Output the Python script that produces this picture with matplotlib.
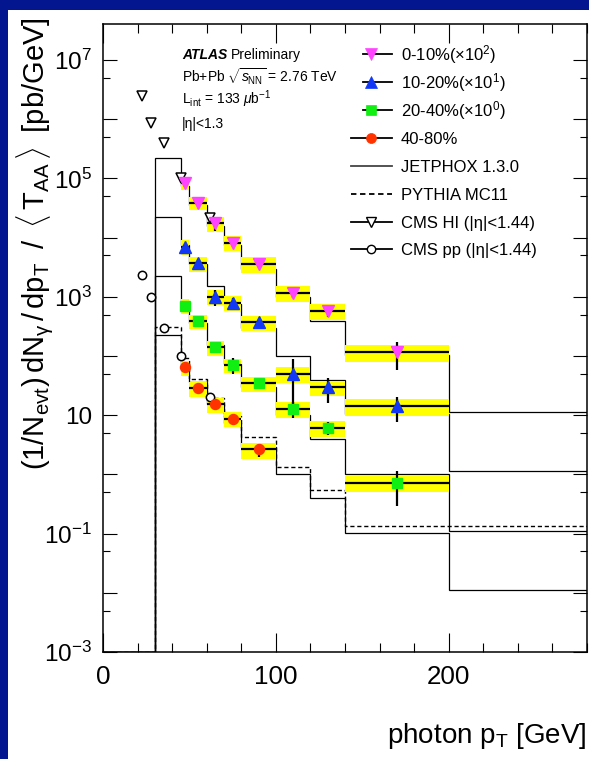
import numpy as np
import matplotlib
matplotlib.use("Agg")
import matplotlib.pyplot as plt
from matplotlib.lines import Line2D
from matplotlib.patches import Rectangle
from matplotlib.ticker import FixedLocator, FuncFormatter, NullFormatter

plt.rcParams['font.family'] = ['Liberation Sans', 'DejaVu Sans']
plt.rcParams['mathtext.fontset'] = 'custom'
plt.rcParams['mathtext.rm'] = 'Liberation Sans'
plt.rcParams['mathtext.it'] = 'Liberation Sans:italic'
plt.rcParams['mathtext.bf'] = 'Liberation Sans:bold'
plt.rcParams['mathtext.sf'] = 'Liberation Sans'

W, H, DPI = 589, 759, 100

# ---------------- data ----------------
atlas_edges = np.array([45, 50, 60, 70, 80, 100, 120, 140, 200])

yield_0_10 = np.array([826, 389, 174, 82.0, 35.8, 11.5, 5.75, 1.16])
yield_10_20 = np.array([700, 368, 100, 79.5, 37.1, 4.97, 2.96, 1.41])
yield_20_40 = np.array([706, 390, 140, 70.5, 34.6, 12.7, 6.15, 0.724])
yield_40_80 = np.array([64.4, 28.5, 15.3, 8.73, 2.65])

scale_0_10, scale_10_20, scale_20_40, scale_40_80 = 1e2, 1e1, 1e0, 1e0

# relative statistical uncertainties
stat_0_10 = np.array([0.03, 0.04, 0.25, 0.06, 0.05, 0.18, 0.22, 0.5])
stat_10_20 = np.array([0.04, 0.05, 0.30, 0.22, 0.08, 0.80, 0.46, 0.45])
stat_20_40 = np.array([0.03, 0.04, 0.13, 0.30, 0.06, 0.30, 0.25, 0.60])
stat_40_80 = np.array([0.05, 0.08, 0.20, 0.20, 0.25])

# relative systematic uncertainties
sys_0_10 = np.array([0.24, 0.26, 0.28, 0.28, 0.30, 0.30, 0.30, 0.31])
sys_10_20 = np.array([0.28, 0.28, 0.28, 0.28, 0.30, 0.30, 0.30, 0.31])
sys_20_40 = np.array([0.28, 0.28, 0.28, 0.28, 0.30, 0.30, 0.30, 0.31])
sys_40_80 = np.array([0.30, 0.28, 0.28, 0.28, 0.30])

# NLO pQCD (JETPHOX) and PYTHIA predictions
jetphox_edges = np.array([0, 30, 45, 50, 60, 70, 80, 100, 120, 140, 200, 280])
jetphox_xsec = np.array([0, 2240, 744, 357, 155, 74.6, 29.5, 10.0, 3.94, 1.03, 0.112])
jetphox_scales = [1e2, 1e1, 1e0, 1e-1]

pythia_edges = np.array([0, 30, 45, 50, 60, 70, 80, 100, 120, 140, 280])
pythia_xsec = np.array([0, 309, 92, 41.5, 19.5, 9.7, 4.24, 1.35, 0.546, 0.136])

# CMS measurements
cms_pt = np.array([22.5, 27.5, 35, 45, 62])
cms_hi = np.array([2.47e6, 8.73e5, 4.01e5, 1.0e5, 2.12e4])
cms_hi_err = np.array([0.06, 0.06, 0.06, 0.08, 0.20])
cms_pp = np.array([2335, 980, 299, 101, 20.1])
cms_pp_err = np.array([0.03, 0.03, 0.03, 0.04, 0.06])

x_ticks = [0, 100, 200]
y_decades = np.arange(-3, 8)

# ---------------- style ----------------
navy = '#03158f'
pink, blue, green, red, yellow = '#ff44ff', '#1238f5', '#11ee11', '#ff3300', '#ffff00'
ymin, ymax = 1e-3, 10 ** 7.608


def fxy(x, y):
    return x / W, 1 - y / H


fig = plt.figure(figsize=(W / DPI, H / DPI), dpi=DPI, facecolor=navy)
fig.add_artist(Rectangle((8 / W, 0), 1, 1 - 10 / H, transform=fig.transFigure,
                         facecolor='white', edgecolor='none', zorder=-5))
ax = fig.add_axes([103 / W, 1 - 652 / H, (587 - 103) / W, (652 - 24) / H])
ax.set_yscale('log')
ax.set_xlim(0, 280)
ax.set_ylim(ymin, ymax)

# theory curves, one JETPHOX copy per centrality scale
for s in jetphox_scales:
    v = np.where(jetphox_xsec > 0, jetphox_xsec * s, ymin)
    ax.stairs(v, jetphox_edges, baseline=None, color='black', lw=0.9, zorder=1)
pv = np.where(pythia_xsec > 0, pythia_xsec, ymin)
ax.stairs(pv, pythia_edges, baseline=None, color='black', lw=1.0,
          linestyle=(0, (3, 2)), zorder=1)

centers = 0.5 * (atlas_edges[1:] + atlas_edges[:-1])
widths = atlas_edges[1:] - atlas_edges[:-1]

series = [
    (yield_0_10 * scale_0_10, stat_0_10, sys_0_10, 'v', pink, 8.5),
    (yield_10_20 * scale_10_20, stat_10_20, sys_10_20, '^', blue, 8.5),
    (yield_20_40 * scale_20_40, stat_20_40, sys_20_40, 's', green, 7.0),
    (yield_40_80 * scale_40_80, stat_40_80, sys_40_80, 'o', red, 7.2),
]

# systematic boxes
for vals, stat, sysf, mk, col, ms in series:
    n = len(vals)
    c, w = centers[:n], widths[:n]
    ax.bar(c, vals * (1 + sysf) - vals * (1 - sysf), bottom=vals * (1 - sysf),
           width=w, color=yellow, edgecolor='none', zorder=2)

# CMS points
ax.errorbar(cms_pt, cms_hi, yerr=cms_hi * cms_hi_err, fmt='none', ecolor='black',
            elinewidth=1.2, capsize=0, zorder=3)
ax.plot(cms_pt, cms_hi, linestyle='none', marker='v', ms=7, mfc='white',
        mec='black', mew=1.1, zorder=3.1)
ax.errorbar(cms_pt, cms_pp, yerr=cms_pp * cms_pp_err, fmt='none', ecolor='black',
            elinewidth=1.2, capsize=0, zorder=3)
ax.plot(cms_pt, cms_pp, linestyle='none', marker='o', ms=6, mfc='white',
        mec='black', mew=1.1, zorder=3.1)

# ATLAS points with statistical errors
for vals, stat, sysf, mk, col, ms in series:
    n = len(vals)
    c, w = centers[:n], widths[:n]
    ax.errorbar(c, vals, xerr=w / 2, yerr=vals * stat, fmt='none', ecolor='black',
                elinewidth=1.6, capsize=0, zorder=4)
    ax.plot(c, vals, linestyle='none', marker=mk, ms=ms, mfc=col, mec=col, zorder=5)

# axes and ticks
for sp in ax.spines.values():
    sp.set_linewidth(1.1)
ax.xaxis.set_major_locator(FixedLocator(x_ticks))
ax.xaxis.set_minor_locator(FixedLocator(np.arange(0, 281, 20)))
ax.yaxis.set_major_locator(FixedLocator(10.0 ** y_decades))
ax.yaxis.set_minor_locator(FixedLocator(5 * 10.0 ** y_decades))


def ylab(v, pos):
    e = int(round(np.log10(v)))
    if e % 2 == 0:
        return ''
    if e == 1:
        return '10'
    return r'$10^{%d}$' % e


ax.yaxis.set_major_formatter(FuncFormatter(ylab))
ax.yaxis.set_minor_formatter(NullFormatter())
ax.tick_params(which='both', direction='in', top=True, right=True, width=0.8,
               color='black')
ax.tick_params(axis='x', which='major', length=13.7, labelsize=18.7, pad=9.5)
ax.tick_params(axis='x', which='minor', length=6.8)
ax.tick_params(axis='y', which='major', length=10, labelsize=17.5, pad=8)
ax.tick_params(axis='y', which='minor', length=5)

# axis titles
fig.text(*fxy(587, 743), r'photon p$_{\rm T}$ [GeV]', ha='right', va='baseline',
         fontsize=20)
fig.text(*fxy(35, 17),
         r'$\rm (1/N_{evt})\,dN_{\gamma}\,/\,dp_{T}\;\;/\;\;'
         r'\langle\,T_{AA}\,\rangle\;\;[pb/GeV]$',
         rotation=90, ha='center', va='top', fontsize=21)

# labels
renderer = fig.canvas.get_renderer()
t = fig.text(*fxy(182, 59), 'ATLAS', fontsize=10, fontweight='bold', style='italic',
             ha='left', va='baseline')
bb = t.get_window_extent(renderer=renderer)
fig.text(bb.x1 / W + 4 / W, 1 - 59 / H, 'Preliminary', fontsize=10, ha='left',
         va='baseline')
fig.text(*fxy(182, 82), r'Pb+Pb $\sqrt{s_{\rm NN}}$ = 2.76 TeV', fontsize=10,
         ha='left', va='baseline')
fig.text(*fxy(182, 104), r'L$_{\rm int}$ = 133 $\mu$b$^{-1}$', fontsize=10,
         ha='left', va='baseline')
fig.text(*fxy(182, 128), '|η|<1.3', fontsize=10, ha='left', va='baseline')

# legend
rows = [54, 82.3, 110, 138.3, 166, 194, 221.7, 249]
entries = [
    ('0-10%(×10$^{2}$)', 'v', pink, pink, '-', 363, 8.5),
    ('10-20%(×10$^{1}$)', '^', blue, blue, '-', 363, 8.5),
    ('20-40%(×10$^{0}$)', 's', green, green, '-', 363, 7.0),
    ('40-80%', 'o', red, red, '-', 351, 7.2),
    ('JETPHOX 1.3.0', None, None, None, '-', 351, 0),
    ('PYTHIA MC11', None, None, None, (0, (3, 2)), 351, 0),
    ('CMS HI (|η|<1.44)', 'v', 'white', 'black', '-', 351, 6.5),
    ('CMS pp (|η|<1.44)', 'o', 'white', 'black', '-', 351, 6.0),
]
for y, (lab, mk, mfc, mec, ls, x0, ms) in zip(rows, entries):
    yf = 1 - y / H
    lcol = '#444444' if lab.startswith('JET') else 'black'
    fig.add_artist(Line2D([x0 / W, 392 / W], [yf, yf], transform=fig.transFigure,
                          color=lcol, lw=1.3, linestyle=ls))
    if mk is not None:
        fig.add_artist(Line2D([371 / W], [yf], transform=fig.transFigure,
                              linestyle='none', marker=mk, ms=ms, mfc=mfc, mec=mec,
                              mew=1.0 if mfc == 'white' else 0.5))
    fig.text(400.7 / W, 1 - (y + 6) / H, lab, fontsize=12, ha='left', va='baseline')

fig.savefig('out.png', dpi=DPI, facecolor=navy)
